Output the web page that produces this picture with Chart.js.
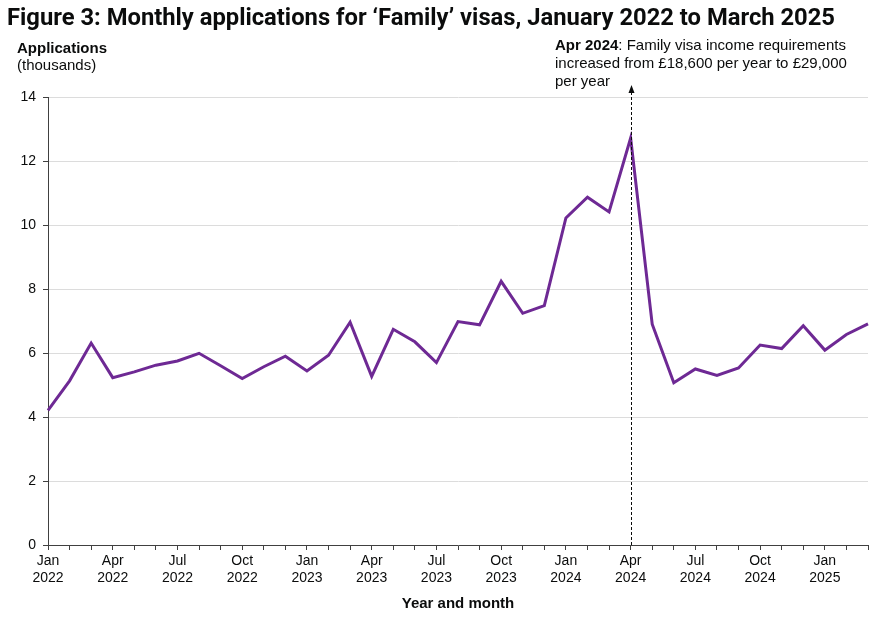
<!DOCTYPE html>
<html>
<head>
<meta charset="utf-8">
<script src="https://cdn.jsdelivr.net/npm/chart.js@4.4.1/dist/chart.umd.min.js"></script>
<style>
  html, body { margin: 0; padding: 0; background: #fff; }
  #wrap { width: 888px; height: 618px; position: relative; }
</style>
</head>
<body>
<div id="wrap"><canvas id="chart"></canvas></div>
<script>
// months Jan 2022 .. Mar 2025
const monthNames = ['Jan', 'Feb', 'Mar', 'Apr', 'May', 'Jun', 'Jul', 'Aug', 'Sep', 'Oct', 'Nov', 'Dec'];
const years = [2022, 2023, 2024, 2025];
const months = [];
years.forEach(y => monthNames.forEach(m => months.push(m + ' ' + y)));
months.length = 39;

// applications, thousands
const applications = [
    4.21, 5.13, 6.31, 5.23, 5.41, 5.62, 5.75, 5.99, 5.60, 5.20, 5.57, 5.90,
    5.44, 5.93, 6.96, 5.27, 6.74, 6.35, 5.70, 6.98, 6.88, 8.24, 7.24, 7.48,
    10.22, 10.87, 10.41, 12.72, 6.90, 5.07, 5.50, 5.30, 5.53, 6.25, 6.14, 6.85,
    6.09, 6.58, 6.91
];
const yTicks = [0, 2, 4, 6, 8, 10, 12, 14];
const markerMonth = 'Apr 2024';

const FONT = '"Liberation Sans", Arial, sans-serif';

// titles, axis labels and the Apr 2024 note
const extras = {
    id: 'extras',
    afterDraw(chart) {
        const c = chart.ctx;
        const x = chart.scales.x;
        const area = chart.chartArea;
        c.save();
        c.fillStyle = '#0b0c0c';
        c.textBaseline = 'alphabetic';
        c.textAlign = 'left';
        c.font = 'bold 24px Roboto, sans-serif';
        c.fillText('Figure 3: Monthly applications for \u2018Family\u2019 visas, January 2022 to March 2025', 7, 25, 828);

        c.font = 'bold 15px ' + FONT;
        c.fillText('Applications', 17, 53);
        c.font = '15px ' + FONT;
        c.fillText('(thousands)', 17, 70);

        c.font = 'bold 15px ' + FONT;
        c.textAlign = 'center';
        c.fillText('Year and month', (area.left + area.right) / 2, 608);

        // annotation line
        const mx = Math.round(x.getPixelForValue(months.indexOf(markerMonth))) + 0.5;
        c.strokeStyle = '#0b0c0c';
        c.lineWidth = 1;
        c.setLineDash([3, 2]);
        c.beginPath();
        c.moveTo(mx, area.bottom);
        c.lineTo(mx, 92);
        c.stroke();
        c.setLineDash([]);
        c.beginPath();
        c.moveTo(mx, 85);
        c.lineTo(mx - 3, 93);
        c.lineTo(mx + 3, 93);
        c.closePath();
        c.fill();

        c.textAlign = 'left';
        c.font = 'bold 15px ' + FONT;
        c.fillText('Apr 2024', 555, 50);
        const w = c.measureText('Apr 2024').width;
        c.font = '15px ' + FONT;
        c.fillText(': Family visa income requirements', 555 + w, 50);
        c.fillText('increased from \u00a318,600 per year to \u00a329,000', 555, 68);
        c.fillText('per year', 555, 86);
        c.restore();
    }
};

const ctx = document.getElementById('chart').getContext('2d');
const chart = new Chart(ctx, {
    type: 'line',
    data: {
        labels: months,
        datasets: [{
            label: 'Applications',
            data: applications,
            borderColor: '#6e2994',
            borderWidth: 3,
            pointRadius: 0,
            tension: 0,
            fill: false
        }]
    },
    options: {
        responsive: true,
        maintainAspectRatio: false,
        animation: false,
        devicePixelRatio: 1,
        layout: { padding: { top: 97, right: 20, left: 0, bottom: 0 } },
        plugins: {
            legend: { display: false },
            title: { display: false },
            tooltip: { enabled: false }
        },
        scales: {
            x: {
                afterFit: s => { s.height = 73; },
                border: { display: true, color: '#404040', width: 1 },
                grid: {
                    drawOnChartArea: false,
                    drawTicks: true,
                    tickLength: 5,
                    tickColor: '#404040'
                },
                ticks: {
                    autoSkip: false,
                    maxRotation: 0,
                    padding: 3,
                    color: '#0b0c0c',
                    font: { family: FONT, size: 14, lineHeight: 1.2 },
                    callback: function(v, i) {
                        if (i % 3 !== 0) return '';
                        return months[i].split(' ');
                    }
                }
            },
            y: {
                min: 0,
                max: 14,
                afterFit: s => { s.width = 48; },
                afterBuildTicks: s => { s.ticks = yTicks.map(v => ({ value: v })); },
                border: { display: true, color: '#404040', width: 1 },
                grid: {
                    color: '#dcdcdc',
                    tickColor: '#404040',
                    tickLength: 5
                },
                ticks: {
                    padding: 7,
                    color: '#0b0c0c',
                    font: { family: FONT, size: 14 }
                }
            }
        }
    },
    plugins: [extras]
});
</script>
</body>
</html>
